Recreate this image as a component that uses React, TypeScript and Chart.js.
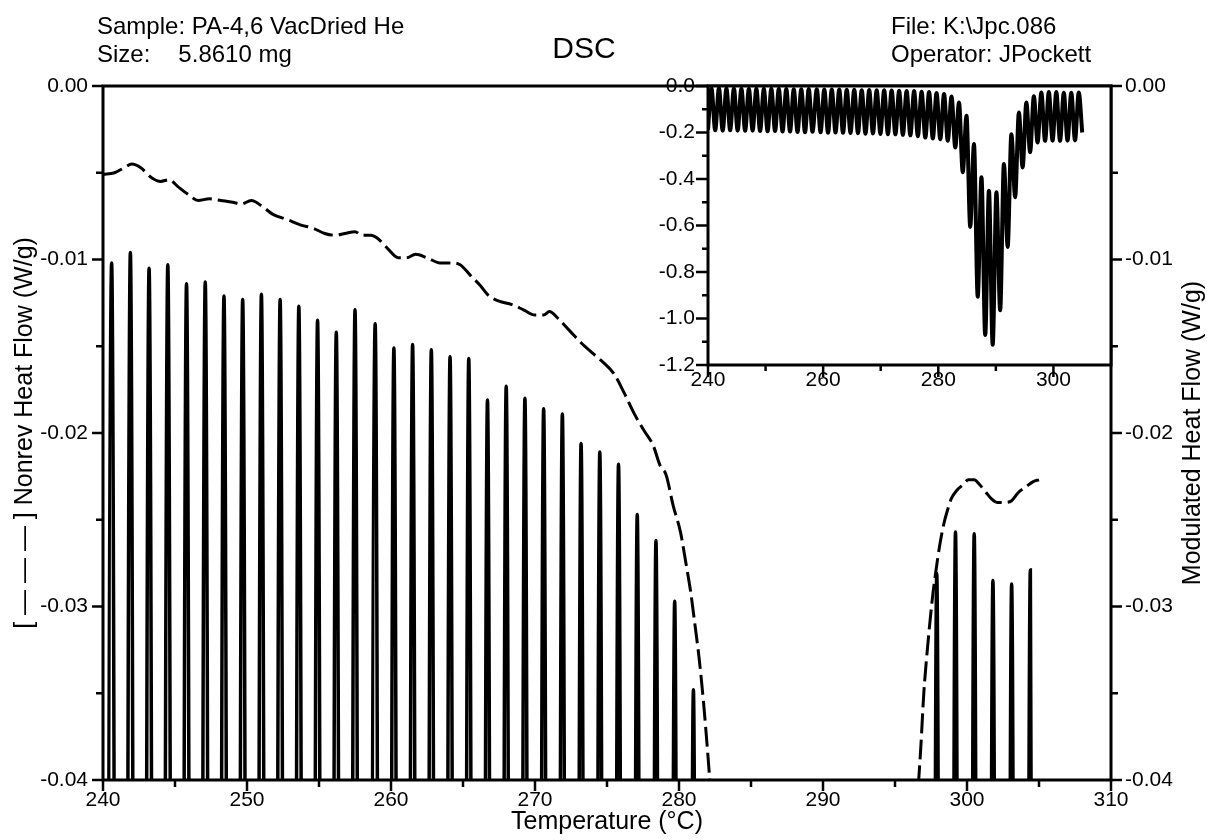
import React, { useEffect, useRef } from "react";
import { Chart, registerables } from "chart.js";

Chart.register(...registerables);

const FONT = "'Liberation Sans', Arial, Helvetica, sans-serif";

// Modulated heat flow: local maxima (peaks) of the oscillation, °C and W/g
const peakTemps = [
  240.6, 241.9, 243.2, 244.5, 245.8, 247.1, 248.4, 249.7, 251.0, 252.3,
  253.6, 254.9, 256.2, 257.5, 258.9, 260.2, 261.5, 262.8, 264.1, 265.4,
  266.7, 268.0, 269.3, 270.6, 271.9, 273.2, 274.5, 275.8, 277.1, 278.4,
  279.7, 281.0, 282.3, 283.6, 284.9, 286.2, 287.5, 288.8, 290.1, 291.4,
  292.7, 294.0, 295.3, 296.6, 297.9, 299.2, 300.5, 301.8, 303.1, 304.4,
];
const peakValues = [
  -0.0102, -0.0096, -0.0105, -0.0103, -0.0114, -0.0113, -0.0121, -0.0123, -0.012, -0.0123,
  -0.0127, -0.0135, -0.0142, -0.0129, -0.0137, -0.0151, -0.0149, -0.0152, -0.0156, -0.0157,
  -0.0181, -0.0173, -0.018, -0.0186, -0.0189, -0.0206, -0.0211, -0.0218, -0.0247, -0.0262,
  -0.0297, -0.0348, -0.045, -0.071, -0.128, -0.25, -0.392, -0.45, -0.457, -0.335,
  -0.207, -0.114, -0.071, -0.044, -0.0281, -0.0257, -0.0258, -0.0285, -0.0287, -0.0279,
];

// Modulated heat flow: local minima (troughs), plus first and last recorded points
const troughTemps = [
  240.0, 241.25, 242.55, 243.85, 245.15, 246.45, 247.75, 249.05, 250.35, 251.65,
  252.95, 254.25, 255.55, 256.85, 258.15, 259.55, 260.85, 262.15, 263.45, 264.75,
  266.05, 267.35, 268.65, 269.95, 271.25, 272.55, 273.85, 275.15, 276.45, 277.75,
  279.05, 280.35, 281.65, 282.95, 284.25, 285.55, 286.85, 288.15, 289.45, 290.75,
  292.05, 293.35, 294.65, 295.95, 297.25, 298.55, 299.85, 301.15, 302.45, 303.75,
  305.0,
];
const troughValues = [
  -0.188, -0.19, -0.192, -0.19, -0.192, -0.193, -0.192, -0.194, -0.195, -0.194,
  -0.196, -0.196, -0.198, -0.199, -0.197, -0.199, -0.201, -0.2, -0.201, -0.202,
  -0.203, -0.205, -0.204, -0.206, -0.207, -0.208, -0.21, -0.212, -0.216, -0.222,
  -0.226, -0.229, -0.235, -0.264, -0.371, -0.606, -0.906, -1.071, -1.113, -0.964,
  -0.692, -0.478, -0.35, -0.285, -0.243, -0.236, -0.235, -0.236, -0.235, -0.234,
  -0.2,
];

// Non-reversing heat flow (dashed), °C and W/g; null = off-scale gap
const nonrevTemps = [
  240.0, 240.8, 241.5, 242.0, 242.6, 243.4, 244.0, 244.6, 245.2, 246.0,
  246.6, 247.4, 248.2, 249.0, 249.6, 250.3, 251.0, 251.8, 252.8, 253.7,
  254.6, 255.4, 256.1, 256.8, 257.5, 258.0, 258.6, 259.1, 259.8, 260.5,
  261.1, 261.7, 262.5, 263.4, 264.2, 264.8, 265.5, 266.2, 266.8, 267.5,
  268.4, 269.2, 270.0, 270.6, 271.0, 271.6, 272.4, 273.2, 274.0, 274.7,
  275.5, 276.2, 276.9, 277.6, 278.2, 278.7, 279.1, 279.6, 280.1, 280.5,
  280.8, 281.1, 281.4, 281.7, 282.0, 282.3, 289.0, 296.5, 296.8, 297.0,
  297.3, 297.6, 297.8, 298.1, 298.4, 298.7, 298.9, 299.3, 299.7, 300.1,
  300.5, 300.9, 301.3, 301.7, 302.1, 302.6, 303.1, 303.6, 304.1, 304.6,
  305.0,
];
const nonrevValues = [
  -0.0051, -0.005, -0.0047, -0.0045, -0.0047, -0.0053, -0.0055, -0.0054, -0.0058, -0.0063,
  -0.0066, -0.0065, -0.0066, -0.0067, -0.0068, -0.0066, -0.0069, -0.0074, -0.0077, -0.008,
  -0.0082, -0.0085, -0.0086, -0.0085, -0.0084, -0.0086, -0.0086, -0.0088, -0.0094, -0.0099,
  -0.0099, -0.0097, -0.0099, -0.0102, -0.0102, -0.0103, -0.0109, -0.0115, -0.0121, -0.0124,
  -0.0126, -0.0129, -0.0132, -0.0132, -0.013, -0.0134, -0.0141, -0.0148, -0.0154, -0.0159,
  -0.0166, -0.0177, -0.0189, -0.0199, -0.0207, -0.0219, -0.0224, -0.0242, -0.0257, -0.0276,
  -0.0291, -0.031, -0.033, -0.0355, -0.0385, -0.0418, null, -0.0418, -0.038, -0.035,
  -0.032, -0.0295, -0.0282, -0.0265, -0.0252, -0.0243, -0.0238, -0.0233, -0.023, -0.0227,
  -0.0227, -0.023, -0.0234, -0.0238, -0.024, -0.024, -0.0239, -0.0234, -0.0231, -0.0228,
  -0.0227,
];

const mainXTicks = { min: 240, max: 310, step: 10 };
const mainYTicks = { min: -0.04, max: 0, step: 0.01 };
const insetXTicks = { min: 240, max: 310, step: 20 };
const insetYTicks = { min: -1.2, max: 0, step: 0.2 };

function modulatedPoints() {
  const pts: { x: number; y: number }[] = [];
  troughTemps.forEach((t, i) => pts.push({ x: t, y: troughValues[i] }));
  peakTemps.forEach((t, i) => pts.push({ x: t, y: peakValues[i] }));
  pts.sort((a, b) => a.x - b.x);
  return pts;
}

function nonrevPoints() {
  return nonrevTemps.map((t, i) => ({ x: t, y: nonrevValues[i] as number | null }));
}

const fmt = (digits: number) => (v: any) => {
  const n = Number(v);
  if (Math.abs(n) < 1e-9) return (0).toFixed(digits);
  return n.toFixed(digits);
};

const decorPlugin = {
  id: "decor",
  beforeDraw(chart: any, _args: any, opts: any) {
    if (opts && opts.fillArea) {
      const a = chart.chartArea;
      const ctx = chart.ctx;
      ctx.save();
      ctx.fillStyle = "#fff";
      ctx.fillRect(a.left, a.top, a.right - a.left, a.bottom - a.top);
      ctx.restore();
    }
  },
  afterDraw(chart: any, _args: any, opts: any) {
    const ctx = chart.ctx;
    const a = chart.chartArea;
    const majorLen = opts.majorLen ?? 11;
    const minorLen = opts.minorLen ?? 7;
    ctx.save();
    ctx.strokeStyle = "#000";
    ctx.lineCap = "butt";
    ctx.lineWidth = opts.tickWidth ?? 2.5;
    Object.values(chart.scales).forEach((scale: any) => {
      const vals: number[] = scale.ticks.map((t: any) => t.value);
      const minors: number[] = [];
      for (let i = 0; i < vals.length - 1; i++) minors.push((vals[i] + vals[i + 1]) / 2);
      const draw = (v: number, len: number) => {
        const p = scale.getPixelForValue(v);
        ctx.beginPath();
        if (scale.position === "bottom") {
          ctx.moveTo(p, a.bottom);
          ctx.lineTo(p, a.bottom + len);
        } else if (scale.position === "left") {
          ctx.moveTo(a.left, p);
          ctx.lineTo(a.left - len, p);
        } else if (scale.position === "right") {
          ctx.moveTo(a.right, p);
          ctx.lineTo(a.right + len, p);
        }
        ctx.stroke();
      };
      vals.forEach((v) => draw(v, majorLen));
      minors.forEach((v) => draw(v, minorLen));
    });
    ctx.lineWidth = opts.frameWidth ?? 3;
    ctx.strokeRect(a.left, a.top, a.right - a.left, a.bottom - a.top);
    if (opts.rightTitle) {
      ctx.fillStyle = "#000";
      ctx.font = `25px ${FONT}`;
      ctx.textAlign = "center";
      ctx.textBaseline = "middle";
      ctx.translate(opts.rightTitleX, (a.top + a.bottom) / 2);
      ctx.rotate(-Math.PI / 2);
      ctx.fillText(opts.rightTitle, 0, 0);
    }
    ctx.restore();
  },
};

export default function App() {
  const mainRef = useRef<HTMLCanvasElement>(null);
  const insetRef = useRef<HTMLCanvasElement>(null);

  useEffect(() => {
    const tickFont = { family: FONT, size: 21 };
    const main = new Chart(mainRef.current as HTMLCanvasElement, {
      type: "line",
      data: {
        datasets: [
          {
            label: "Nonrev Heat Flow",
            data: nonrevPoints() as any,
            yAxisID: "y",
            borderColor: "#000",
            borderWidth: 3,
            borderDash: [20, 6],
            pointRadius: 0,
            cubicInterpolationMode: "monotone",
            spanGaps: false,
            fill: false,
            clip: 0 as any,
          },
          {
            label: "Modulated Heat Flow",
            data: modulatedPoints() as any,
            yAxisID: "y2",
            borderColor: "#000",
            borderWidth: 3.5,
            pointRadius: 0,
            cubicInterpolationMode: "monotone",
            fill: false,
            clip: 0 as any,
          },
        ],
      },
      options: {
        responsive: false,
        animation: false,
        devicePixelRatio: 1,
        layout: { padding: { top: 86, left: 0, right: 0, bottom: 0 } },
        plugins: {
          legend: { display: false },
          tooltip: { enabled: false },
          title: { display: false },
          decor: {
            majorLen: 11,
            minorLen: 7,
            rightTitle: "Modulated Heat Flow (W/g)",
            rightTitleX: 1193,
          },
        } as any,
        scales: {
          x: {
            type: "linear",
            position: "bottom",
            min: mainXTicks.min,
            max: mainXTicks.max,
            ticks: { stepSize: mainXTicks.step, font: tickFont, color: "#000", padding: 8, maxRotation: 0, autoSkip: false },
            grid: { display: false, drawTicks: false },
            border: { display: false },
            title: {
              display: true,
              text: "Temperature (°C)",
              color: "#000",
              font: { family: FONT, size: 25 },
              padding: { top: 0, bottom: 3 },
            },
            afterFit: (s: any) => {
              s.height = 60;
            },
          },
          y: {
            type: "linear",
            position: "left",
            min: mainYTicks.min,
            max: mainYTicks.max,
            ticks: { stepSize: mainYTicks.step, font: tickFont, color: "#000", padding: 15, callback: fmt(2) },
            grid: { display: false, drawTicks: false },
            border: { display: false },
            title: {
              display: true,
              text: "[ — — — ] Nonrev Heat Flow (W/g)",
              color: "#000",
              font: { family: FONT, size: 25 },
              padding: { top: 10, bottom: 0 },
            },
            afterFit: (s: any) => {
              s.width = 103;
            },
          },
          y2: {
            type: "linear",
            position: "right",
            min: mainYTicks.min,
            max: mainYTicks.max,
            ticks: { stepSize: mainYTicks.step, font: tickFont, color: "#000", padding: 14, callback: fmt(2) },
            grid: { display: false, drawTicks: false },
            border: { display: false },
            afterFit: (s: any) => {
              s.width = 96;
            },
          },
        },
      } as any,
      plugins: [decorPlugin],
    });

    const inset = new Chart(insetRef.current as HTMLCanvasElement, {
      type: "line",
      data: {
        datasets: [
          {
            label: "Modulated Heat Flow",
            data: modulatedPoints() as any,
            borderColor: "#000",
            borderWidth: 4,
            pointRadius: 0,
            cubicInterpolationMode: "monotone",
            fill: false,
            clip: 0 as any,
          },
        ],
      },
      options: {
        responsive: false,
        animation: false,
        devicePixelRatio: 1,
        layout: { padding: { top: 26, left: 0, right: 9, bottom: 0 } },
        plugins: {
          legend: { display: false },
          tooltip: { enabled: false },
          decor: { majorLen: 12, minorLen: 6, fillArea: true },
        } as any,
        scales: {
          x: {
            type: "linear",
            position: "bottom",
            min: insetXTicks.min,
            max: insetXTicks.max,
            ticks: {
              stepSize: insetXTicks.step,
              includeBounds: false,
              font: tickFont,
              color: "#000",
              padding: 3,
              maxRotation: 0,
              autoSkip: false,
            },
            grid: { display: false, drawTicks: false },
            border: { display: false },
            afterFit: (s: any) => {
              s.height = 40;
            },
          },
          y: {
            type: "linear",
            position: "left",
            min: insetYTicks.min,
            max: insetYTicks.max,
            ticks: { stepSize: insetYTicks.step, font: tickFont, color: "#000", padding: 13, callback: fmt(1) },
            grid: { display: false, drawTicks: false },
            border: { display: false },
            afterFit: (s: any) => {
              s.width = 108;
            },
          },
        },
      } as any,
      plugins: [decorPlugin],
    });

    return () => {
      main.destroy();
      inset.destroy();
    };
  }, []);

  const headStyle: React.CSSProperties = {
    position: "absolute",
    fontSize: 24,
    lineHeight: "28px",
    whiteSpace: "pre",
    color: "#000",
    fontFamily: FONT,
  };

  return (
    <div style={{ position: "absolute", left: 0, top: 0, width: 1207, height: 840, background: "#fff", overflow: "hidden" }}>
      <canvas ref={mainRef} width={1207} height={840} style={{ position: "absolute", left: 0, top: 0 }} />
      <canvas ref={insetRef} width={520} height={345} style={{ position: "absolute", left: 600, top: 60 }} />
      <div style={{ ...headStyle, left: 97, top: 12 }}>Sample: PA-4,6 VacDried He</div>
      <div style={{ ...headStyle, left: 97, top: 40 }}>
        Size:<span style={{ marginLeft: 28 }}>5.8610 mg</span>
      </div>
      <div style={{ ...headStyle, left: 891, top: 12 }}>File: K:\Jpc.086</div>
      <div style={{ ...headStyle, left: 891, top: 40 }}>Operator: JPockett</div>
      <div style={{ ...headStyle, fontSize: 30, lineHeight: "34px", left: 584, top: 31, transform: "translateX(-50%)" }}>DSC</div>
    </div>
  );
}
